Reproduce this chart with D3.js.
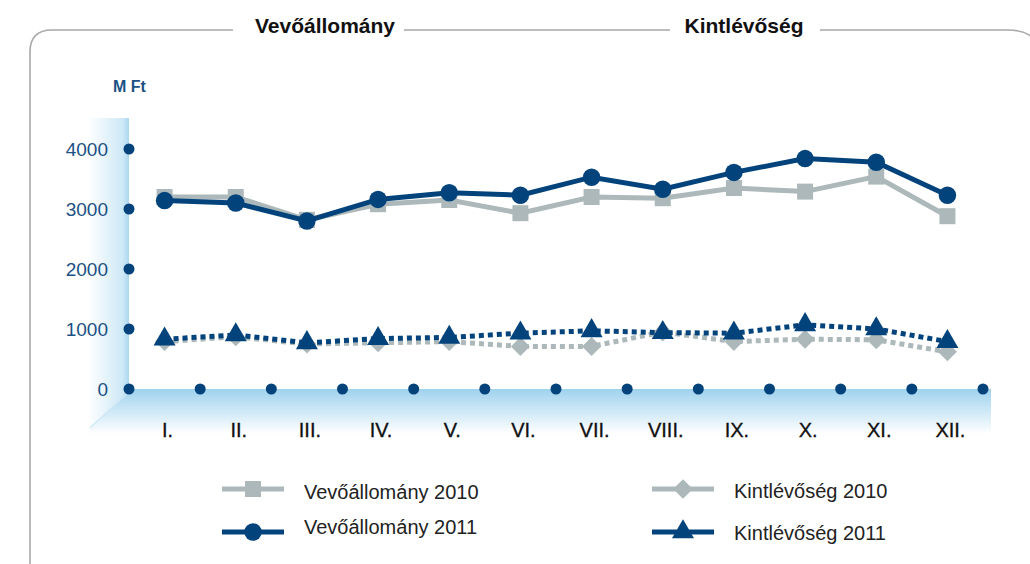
<!DOCTYPE html>
<html>
<head>
<meta charset="utf-8">
<script src="https://cdn.jsdelivr.net/npm/d3@7"></script>
<style>
  body { margin: 0; background: #fff; }
  text { font-family: "Liberation Sans", Arial, sans-serif; }
</style>
</head>
<body>
<div id="main"></div>
<script>
const ctx = {
    w: 1030,
    h: 564,
    left: 129,
    right: 983,
    top: 149,
    bottom: 389,
};

const months = ["I.", "II.", "III.", "IV.", "V.", "VI.", "VII.", "VIII.", "IX.", "X.", "XI.", "XII."];
const yTicks = [0, 1000, 2000, 3000, 4000];
const vevo2010 = [3200, 3200, 2820, 3080, 3150, 2930, 3200, 3180, 3350, 3290, 3540, 2880];
const vevo2011 = [3140, 3100, 2800, 3160, 3270, 3230, 3530, 3330, 3610, 3840, 3780, 3230];
const kint2010 = [790, 870, 750, 770, 790, 710, 710, 950, 790, 830, 820, 620];
const kint2011 = [830, 900, 770, 840, 860, 930, 970, 940, 930, 1070, 1000, 790];

const blue = "#03437c", grey = "#acb8b9";

function drawFrame(svg) {
    // rounded box, top line broken by the two titles
    const r = 22;
    svg.append("path")
       .attr("d", `M30,564 L30,${30 + r} Q30,30 ${30 + r},30 L233,30 M404,30 L670,30 M820,30 L1008,30 Q1030,30 1040,45`)
       .attr("fill", "none").attr("stroke", "#a8a8a8").attr("stroke-width", 1.6);
    svg.append("text").attr("x", 325).attr("y", 33).attr("text-anchor", "middle")
       .style("font-size", "21px").style("font-weight", "bold").attr("fill", "#111")
       .text("Vevőállomány");
    svg.append("text").attr("x", 744).attr("y", 33).attr("text-anchor", "middle")
       .style("font-size", "21px").style("font-weight", "bold").attr("fill", "#111")
       .text("Kintlévőség");
    svg.append("text").attr("x", 113).attr("y", 92)
       .style("font-size", "16px").style("font-weight", "bold").attr("fill", "#1b5184")
       .text("M Ft");
}

function drawBackdrop(svg) {
    let defs = svg.append("defs");
    let wg = defs.append("linearGradient").attr("id", "wall").attr("x1", 0).attr("x2", 1).attr("y1", 0).attr("y2", 0);
    wg.append("stop").attr("offset", "0%").attr("stop-color", "#ffffff");
    wg.append("stop").attr("offset", "85%").attr("stop-color", "#cde8f6");
    wg.append("stop").attr("offset", "100%").attr("stop-color", "#a9d7ef");
    let fg = defs.append("linearGradient").attr("id", "floor").attr("x1", 0).attr("x2", 0).attr("y1", 0).attr("y2", 1);
    fg.append("stop").attr("offset", "0%").attr("stop-color", "#9fd2ee");
    fg.append("stop").attr("offset", "100%").attr("stop-color", "#ffffff");

    svg.append("rect").attr("x", 88).attr("y", 118).attr("width", ctx.left - 88).attr("height", 314)
       .attr("fill", "url(#wall)");
    svg.append("polygon")
       .attr("points", `${ctx.left},${ctx.bottom} 991,${ctx.bottom} 991,434 86,434 ${ctx.left},${ctx.bottom + 1}`)
       .attr("fill", "url(#floor)");
    svg.append("line").attr("x1", ctx.left).attr("y1", ctx.bottom + 3).attr("x2", 90).attr("y2", 428)
       .attr("stroke", "#cfe8f6").attr("stroke-width", 1.5);
}

function drawAxes(svg, x, y) {
    svg.selectAll(".ytick").data(yTicks).enter().append("circle")
       .attr("cx", ctx.left).attr("cy", d => y(d)).attr("r", 5.5).attr("fill", blue);
    svg.selectAll(".ylab").data(yTicks).enter().append("text")
       .attr("x", 108).attr("y", d => y(d) + 7).attr("text-anchor", "end")
       .style("font-size", "19px").attr("fill", "#1b5184")
       .text(d => d);
    let edges = months.map(m => x(m)).concat([x(months[months.length - 1]) + x.step()]);
    svg.selectAll(".xtick").data(edges.slice(1)).enter().append("circle")
       .attr("cx", d => d).attr("cy", ctx.bottom).attr("r", 5.5).attr("fill", blue);
    svg.selectAll(".xlab").data(months).enter().append("text")
       .attr("x", d => x(d) + x.bandwidth() / 2 + 3).attr("y", 437).attr("text-anchor", "middle")
       .style("font-size", "20px").attr("fill", "#111").attr("stroke", "#111").attr("stroke-width", 0.3)
       .text(d => d);
}

// diamond = square turned by 45 degrees
function symbolPath(type, size) {
    if (type === "diamond") return d3.symbol().type(d3.symbolSquare).size(size)();
    return d3.symbol().type(type).size(size)();
}
function symbolRot(type) {
    return type === "diamond" ? " rotate(45)" : "";
}

function drawSeries(svg, x, y, values, color, dashed, symbol, size) {
    const cx = (d, i) => x(months[i]) + x.bandwidth() / 2;
    let line = d3.line().x(cx).y(d => y(d));
    svg.append("path").datum(values)
       .attr("d", line).attr("fill", "none").attr("stroke", color).attr("stroke-width", 5)
       .attr("stroke-dasharray", dashed ? "5,4" : null);
    svg.append("g").selectAll("path").data(values).enter().append("path")
       .attr("d", symbolPath(symbol, size))
       .attr("transform", (d, i) => `translate(${cx(d, i)},${y(d)})` + symbolRot(symbol))
       .attr("fill", color);
}

function drawLegend(svg) {
    const items = [
        {label: "Vevőállomány 2010", x: 222, y: 489, ty: 499, color: grey, symbol: d3.symbolSquare, size: 256},
        {label: "Vevőállomány 2011", x: 222, y: 532, ty: 534, color: blue, symbol: d3.symbolCircle, size: 240},
        {label: "Kintlévőség 2010", x: 652, y: 489, ty: 498, color: grey, symbol: "diamond", size: 190},
        {label: "Kintlévőség 2011", x: 652, y: 532, ty: 540, color: blue, symbol: d3.symbolTriangle, size: 210},
    ];
    let g = svg.selectAll(".leg").data(items).enter().append("g");
    g.append("line").attr("x1", d => d.x).attr("x2", d => d.x + 62).attr("y1", d => d.y).attr("y2", d => d.y)
     .attr("stroke", d => d.color).attr("stroke-width", 5);
    g.append("path").attr("d", d => symbolPath(d.symbol, d.size))
     .attr("transform", d => `translate(${d.x + 31},${d.y})` + symbolRot(d.symbol)).attr("fill", d => d.color);
    g.append("text").attr("x", d => d.x + 82).attr("y", d => d.ty)
     .style("font-size", "20px").attr("fill", "#222").text(d => d.label);
}

function createViz() {
    let svg = d3.select("#main").append("svg").attr("width", ctx.w).attr("height", ctx.h);
    let x = d3.scaleBand().domain(months).range([ctx.left, ctx.right]);
    let y = d3.scaleLinear().domain([0, 4000]).range([ctx.bottom, ctx.top]);
    drawFrame(svg);
    drawBackdrop(svg);
    drawAxes(svg, x, y);
    drawSeries(svg, x, y, kint2010, grey, true, "diamond", 180);
    drawSeries(svg, x, y, kint2011, blue, true, d3.symbolTriangle, 210);
    drawSeries(svg, x, y, vevo2010, grey, false, d3.symbolSquare, 256);
    drawSeries(svg, x, y, vevo2011, blue, false, d3.symbolCircle, 240);
    drawLegend(svg);
}

createViz();
</script>
</body>
</html>
